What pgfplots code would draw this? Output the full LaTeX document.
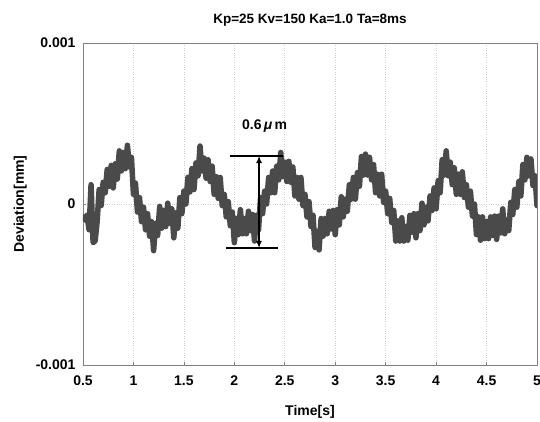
\documentclass[border=0pt]{standalone}
\usepackage{fontspec}
\setmainfont{Liberation Sans}
\usepackage{pgfplots}
\pgfplotsset{compat=1.18}
\usetikzlibrary{arrows.meta}
\definecolor{sig}{HTML}{4A4A4A}
\definecolor{axgray}{HTML}{808080}
\definecolor{gridgray}{HTML}{CFCFCF}
\begin{document}
\begin{tikzpicture}
\begin{axis}[
  scale only axis, width=454pt, height=322pt,
  at={(0,0)}, anchor=south west,
  xmin=0.5, xmax=5, ymin=-10, ymax=10,
  xtick={0.5,1,1.5,2,2.5,3,3.5,4,4.5,5},
  xticklabels={0.5,1,1.5,2,2.5,3,3.5,4,4.5,5},
  ytick={-10,0,10},
  yticklabels={-0.001,0,0.001},
  xmajorgrids, ymajorgrids,
  grid style={gridgray, dotted, line width=0.6pt},
  axis line style={axgray, line width=0.8pt},
  tick style={axgray, line width=0.6pt},
  tick align=inside, major tick length=3pt,
  xtick pos=bottom, ytick pos=left,
  ticklabel style={font=\fontsize{14}{16}\selectfont\bfseries},
  xticklabel style={yshift=-7pt},
  yticklabel style={xshift=-4pt},
  xlabel={Time[s]}, ylabel={Deviation[mm]},
  xlabel style={font=\fontsize{14}{16}\selectfont\bfseries, yshift=-13pt},
  ylabel style={font=\fontsize{14}{16}\selectfont\bfseries, yshift=2pt},
  title={Kp=25 Kv=150 Ka=1.0 Ta=8ms},
  title style={font=\fontsize{13.5}{16}\selectfont\bfseries, yshift=7pt},
  clip=true,
]
\addplot[sig, line width=5.5pt, line join=round, line cap=round] table {
0.50 -0.8
0.52 -1.0
0.54 -0.7
0.56 -1.6
0.58 1.2
0.60 -2.4
0.62 -2.3
0.64 -1.1
0.66 0.9
0.68 -0.1
0.70 1.35
0.72 0.7
0.74 2.15
0.76 1.1
0.78 2.4
0.80 1.0
0.82 2.5
0.84 1.55
0.86 3.3
0.88 2.05
0.90 3.2
0.92 2.2
0.94 3.65
0.96 2.3
0.98 2.9
1.00 0.6
1.02 1.3
1.04 -0.5
1.06 0.4
1.08 -1.1
1.10 -0.2
1.12 -1.6
1.14 -0.6
1.16 -2.0
1.18 -1.1
1.20 -2.9
1.22 -1.2
1.24 -1.95
1.26 -0.15
1.28 -1.5
1.30 -0.4
1.32 -1.4
1.34 0.05
1.36 -1.2
1.38 -0.3
1.40 -2.1
1.42 -0.55
1.44 -1.5
1.46 0.4
1.48 -0.6
1.50 0.8
1.52 0.0
1.54 1.65
1.56 0.75
1.58 2.2
1.60 0.9
1.62 2.55
1.64 1.75
1.66 3.6
1.68 2.05
1.70 2.85
1.72 1.6
1.74 2.75
1.76 1.4
1.78 2.35
1.80 0.6
1.82 1.7
1.84 0.35
1.86 1.65
1.88 -0.1
1.90 0.6
1.92 -0.8
1.94 0.15
1.96 -1.35
1.98 -0.5
2.00 -2.4
2.02 -0.9
2.04 -1.9
2.06 -0.35
2.08 -1.85
2.10 -0.9
2.12 -1.85
2.14 -0.45
2.16 -1.65
2.18 -0.65
2.20 -2.3
2.22 -0.7
2.24 -1.6
2.26 0.4
2.28 -0.6
2.30 0.8
2.32 0.0
2.34 1.65
2.36 0.7
2.38 2.05
2.40 0.7
2.42 2.35
2.44 1.5
2.46 3.2
2.48 1.7
2.50 2.6
2.52 1.4
2.54 2.65
2.56 1.35
2.58 2.3
2.60 0.5
2.62 1.65
2.64 0.3
2.66 1.65
2.68 -0.1
2.70 0.6
2.72 -0.8
2.74 0.15
2.76 -1.4
2.78 -0.7
2.80 -2.7
2.82 -1.7
2.84 -2.85
2.86 -0.9
2.88 -2.0
2.90 -0.9
2.92 -1.85
2.94 -0.45
2.96 -1.55
2.98 -0.4
3.00 -1.9
3.02 -0.35
3.04 -1.3
3.06 0.45
3.08 -0.8
3.10 0.3
3.12 -0.45
3.14 1.2
3.16 0.3
3.18 1.65
3.20 0.3
3.22 1.95
3.24 1.1
3.26 2.95
3.28 1.8
3.30 3.1
3.32 1.8
3.34 2.9
3.36 1.5
3.38 2.45
3.40 0.7
3.42 1.85
3.44 0.5
3.46 1.85
3.48 0.1
3.50 0.8
3.52 -0.6
3.54 0.35
3.56 -1.15
3.58 -0.4
3.60 -2.3
3.62 -1.05
3.64 -2.3
3.66 -0.85
3.68 -2.3
3.70 -1.4
3.72 -2.25
3.74 -0.7
3.76 -1.75
3.78 -0.6
3.80 -2.1
3.82 -0.6
3.84 -1.65
3.86 0.05
3.88 -1.3
3.90 -0.2
3.92 -1.05
3.94 0.5
3.96 -0.4
3.98 1.0
4.00 -0.3
4.02 1.45
4.04 0.7
4.06 2.75
4.08 1.8
4.10 3.3
4.12 1.75
4.14 2.6
4.16 1.2
4.18 2.25
4.20 0.6
4.22 1.85
4.24 0.6
4.26 2.0
4.28 0.4
4.30 1.2
4.32 -0.2
4.34 0.8
4.36 -0.75
4.38 0.0
4.40 -1.9
4.42 -0.8
4.44 -2.25
4.46 -0.8
4.48 -2.15
4.50 -1.1
4.52 -2.15
4.54 -0.8
4.56 -1.95
4.58 -0.75
4.60 -2.2
4.62 -0.75
4.64 -1.8
4.66 -0.3
4.68 -1.85
4.70 -1.0
4.72 -1.65
4.74 0.1
4.76 -0.65
4.78 0.9
4.80 -0.2
4.82 1.4
4.84 0.5
4.86 2.45
4.88 1.5
4.90 2.9
4.92 1.75
4.94 2.8
4.96 1.15
4.98 1.75
5.00 -0.1
};
\draw[black, line width=1.3pt] (axis cs:1.957,2.98) -- (axis cs:2.48,2.98);
\draw[black, line width=1.3pt] (axis cs:1.92,-2.73) -- (axis cs:2.43,-2.73);
\draw[black, line width=1.3pt, {Latex[length=7pt,width=6pt]}-{Latex[length=7pt,width=6pt]}] (axis cs:2.245,2.98) -- (axis cs:2.245,-2.73);
\node[font=\fontsize{14}{16}\selectfont\bfseries] at (axis cs:2.30,4.84) {0.6\,{\itshape μ}\,m};
\end{axis}
\pgfresetboundingbox
\path (-83pt,-56pt) rectangle (457pt,365pt);
\end{tikzpicture}
\end{document}
